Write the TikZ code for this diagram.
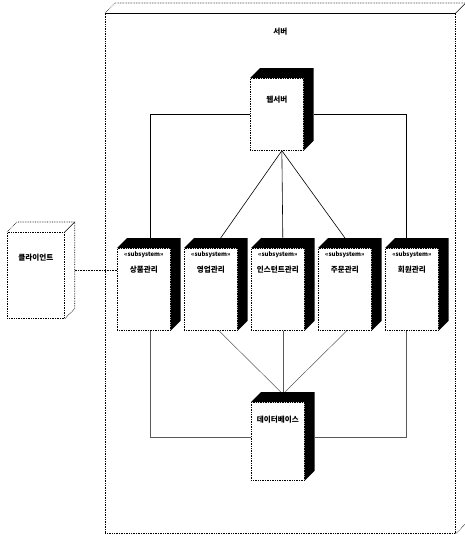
\documentclass[tikz,border=0pt]{standalone}
\usepackage{fontspec}
\setmainfont{Noto Sans CJK KR}
\usetikzlibrary{calc}
\newcommand{\shadebox}[1]{\fill (#1.north west) -- ++(10,-10) -- ($(#1.north east)+(10,-10)$) -- ($(#1.south east)+(10,-10)$) -- (#1.south east) -- (#1.north east) -- cycle;}
\begin{document}
\begin{tikzpicture}[x=1pt,y=-1pt,
  face/.style={draw, densely dotted, line width=0.7pt, fill=white, inner sep=0, anchor=north west},
  lbl/.style={font=\bfseries\fontsize{7.6}{9}\selectfont, inner sep=0},
  stereo/.style={font=\bfseries\fontsize{6}{7}\selectfont, inner sep=0},
  conn/.style={line width=0.6pt},
  lowconn/.style={line width=0.5pt, black!65}]
\useasboundingbox (0,0) rectangle (465,535);
% outer server box
\node[face, fill=none, minimum width=350, minimum height=520] (srv) at (105,13) {};
\draw[densely dotted, line width=0.6pt] (srv.north west) -- ++(10,-10) -- ($(srv.north east)+(10,-10)$) -- ($(srv.south east)+(10,-10)$) -- (srv.south east);
\draw[line width=0.6pt] (srv.north east) -- ++(10,-10);
\draw[line width=0.9pt] (srv.north west) -- (srv.north east);
\node[lbl] (srvt) at ($(srv.north)+(0,19)$) {서버};
% client
\node[face, fill=none, minimum width=57, minimum height=86] (cl) at (7,232) {};
\draw[densely dotted, line width=0.7pt] (cl.north west) -- ++(10,-10) -- ($(cl.north east)+(10,-10)$) -- ($(cl.south east)+(10,-10)$) -- (cl.south east);
\draw[line width=0.6pt] (cl.north east) -- ++(10,-10);
\node[lbl] (clt) at ($(cl.north)+(0,26)$) {클라이언트};
% web server
\node[face, minimum width=53, minimum height=72] (web) at (250,78) {};
% components
\node[face, minimum width=53, minimum height=82] (c1) at (117,248) {};
\node[face, minimum width=53, minimum height=82] (c2) at (184,248) {};
\node[face, minimum width=53, minimum height=82] (c3) at (251,248) {};
\node[face, minimum width=53, minimum height=82] (c4) at (318,248) {};
\node[face, minimum width=53, minimum height=82] (c5) at (385,248) {};
% database
\node[face, minimum width=53, minimum height=78] (db) at (251,402) {};
% connectors from web server
\draw[conn] (web.west) -| ($(c1.north)+(6,-10)$);
\draw[conn] ($(web.east)+(10,0)$) -| ($(c5.north)+(-6,-10)$);
\draw[conn] ($(web.south)+(5,0)$) -- ($(c2.north)+(7,-6)$);
\draw[conn] ($(web.south)+(5,0)$) -- ($(c3.north)+(5,-6)$);
\draw[conn] ($(web.south)+(5,0)$) -- ($(c4.north)+(3,-6)$);
% connectors to database
\draw[lowconn] ($(c1.south)+(6,0)$) |- ($(db.west)+(0,-4)$);
\draw[lowconn] ($(c5.south)+(-6,0)$) |- ($(db.east)+(10,-4)$);
\draw[lowconn] ($(c2.south)+(8,0)$) -- ($(db.north)+(5,-8)$);
\draw[lowconn] ($(c3.south)+(5,0)$) -- ($(db.north)+(5,-8)$);
\draw[lowconn] ($(c4.south)+(2,0)$) -- ($(db.north)+(5,-8)$);
% client link
\coordinate (clp) at ($(cl.east)+(10,-5)$);
\draw[densely dotted, line width=0.6pt] (clp) -- (clp -| c1.west);
% shading
\shadebox{web}
\shadebox{c1}
\shadebox{c2}
\shadebox{c3}
\shadebox{c4}
\shadebox{c5}
\shadebox{db}
% texts
\node[lbl] (webt) at ($(web.north)+(0,22)$) {웹서버};
\node[stereo] (s1) at ($(c1.north)+(0,7)$) {«subsystem»};
\node[stereo] (s2) at ($(c2.north)+(0,7)$) {«subsystem»};
\node[stereo] (s3) at ($(c3.north)+(0,7)$) {«subsystem»};
\node[stereo] (s4) at ($(c4.north)+(0,7)$) {«subsystem»};
\node[stereo] (s5) at ($(c5.north)+(0,7)$) {«subsystem»};
\node[lbl] (t1) at ($(c1.north)+(0,22)$) {상품관리};
\node[lbl] (t2) at ($(c2.north)+(0,22)$) {영업관리};
\node[lbl] (t3) at ($(c3.north)+(0,22)$) {인스턴트관리};
\node[lbl] (t4) at ($(c4.north)+(0,22)$) {주문관리};
\node[lbl] (t5) at ($(c5.north)+(0,22)$) {회원관리};
\node[lbl] (dbt) at ($(db.north)+(0,18)$) {데이터베이스};
\end{tikzpicture}
\end{document}
